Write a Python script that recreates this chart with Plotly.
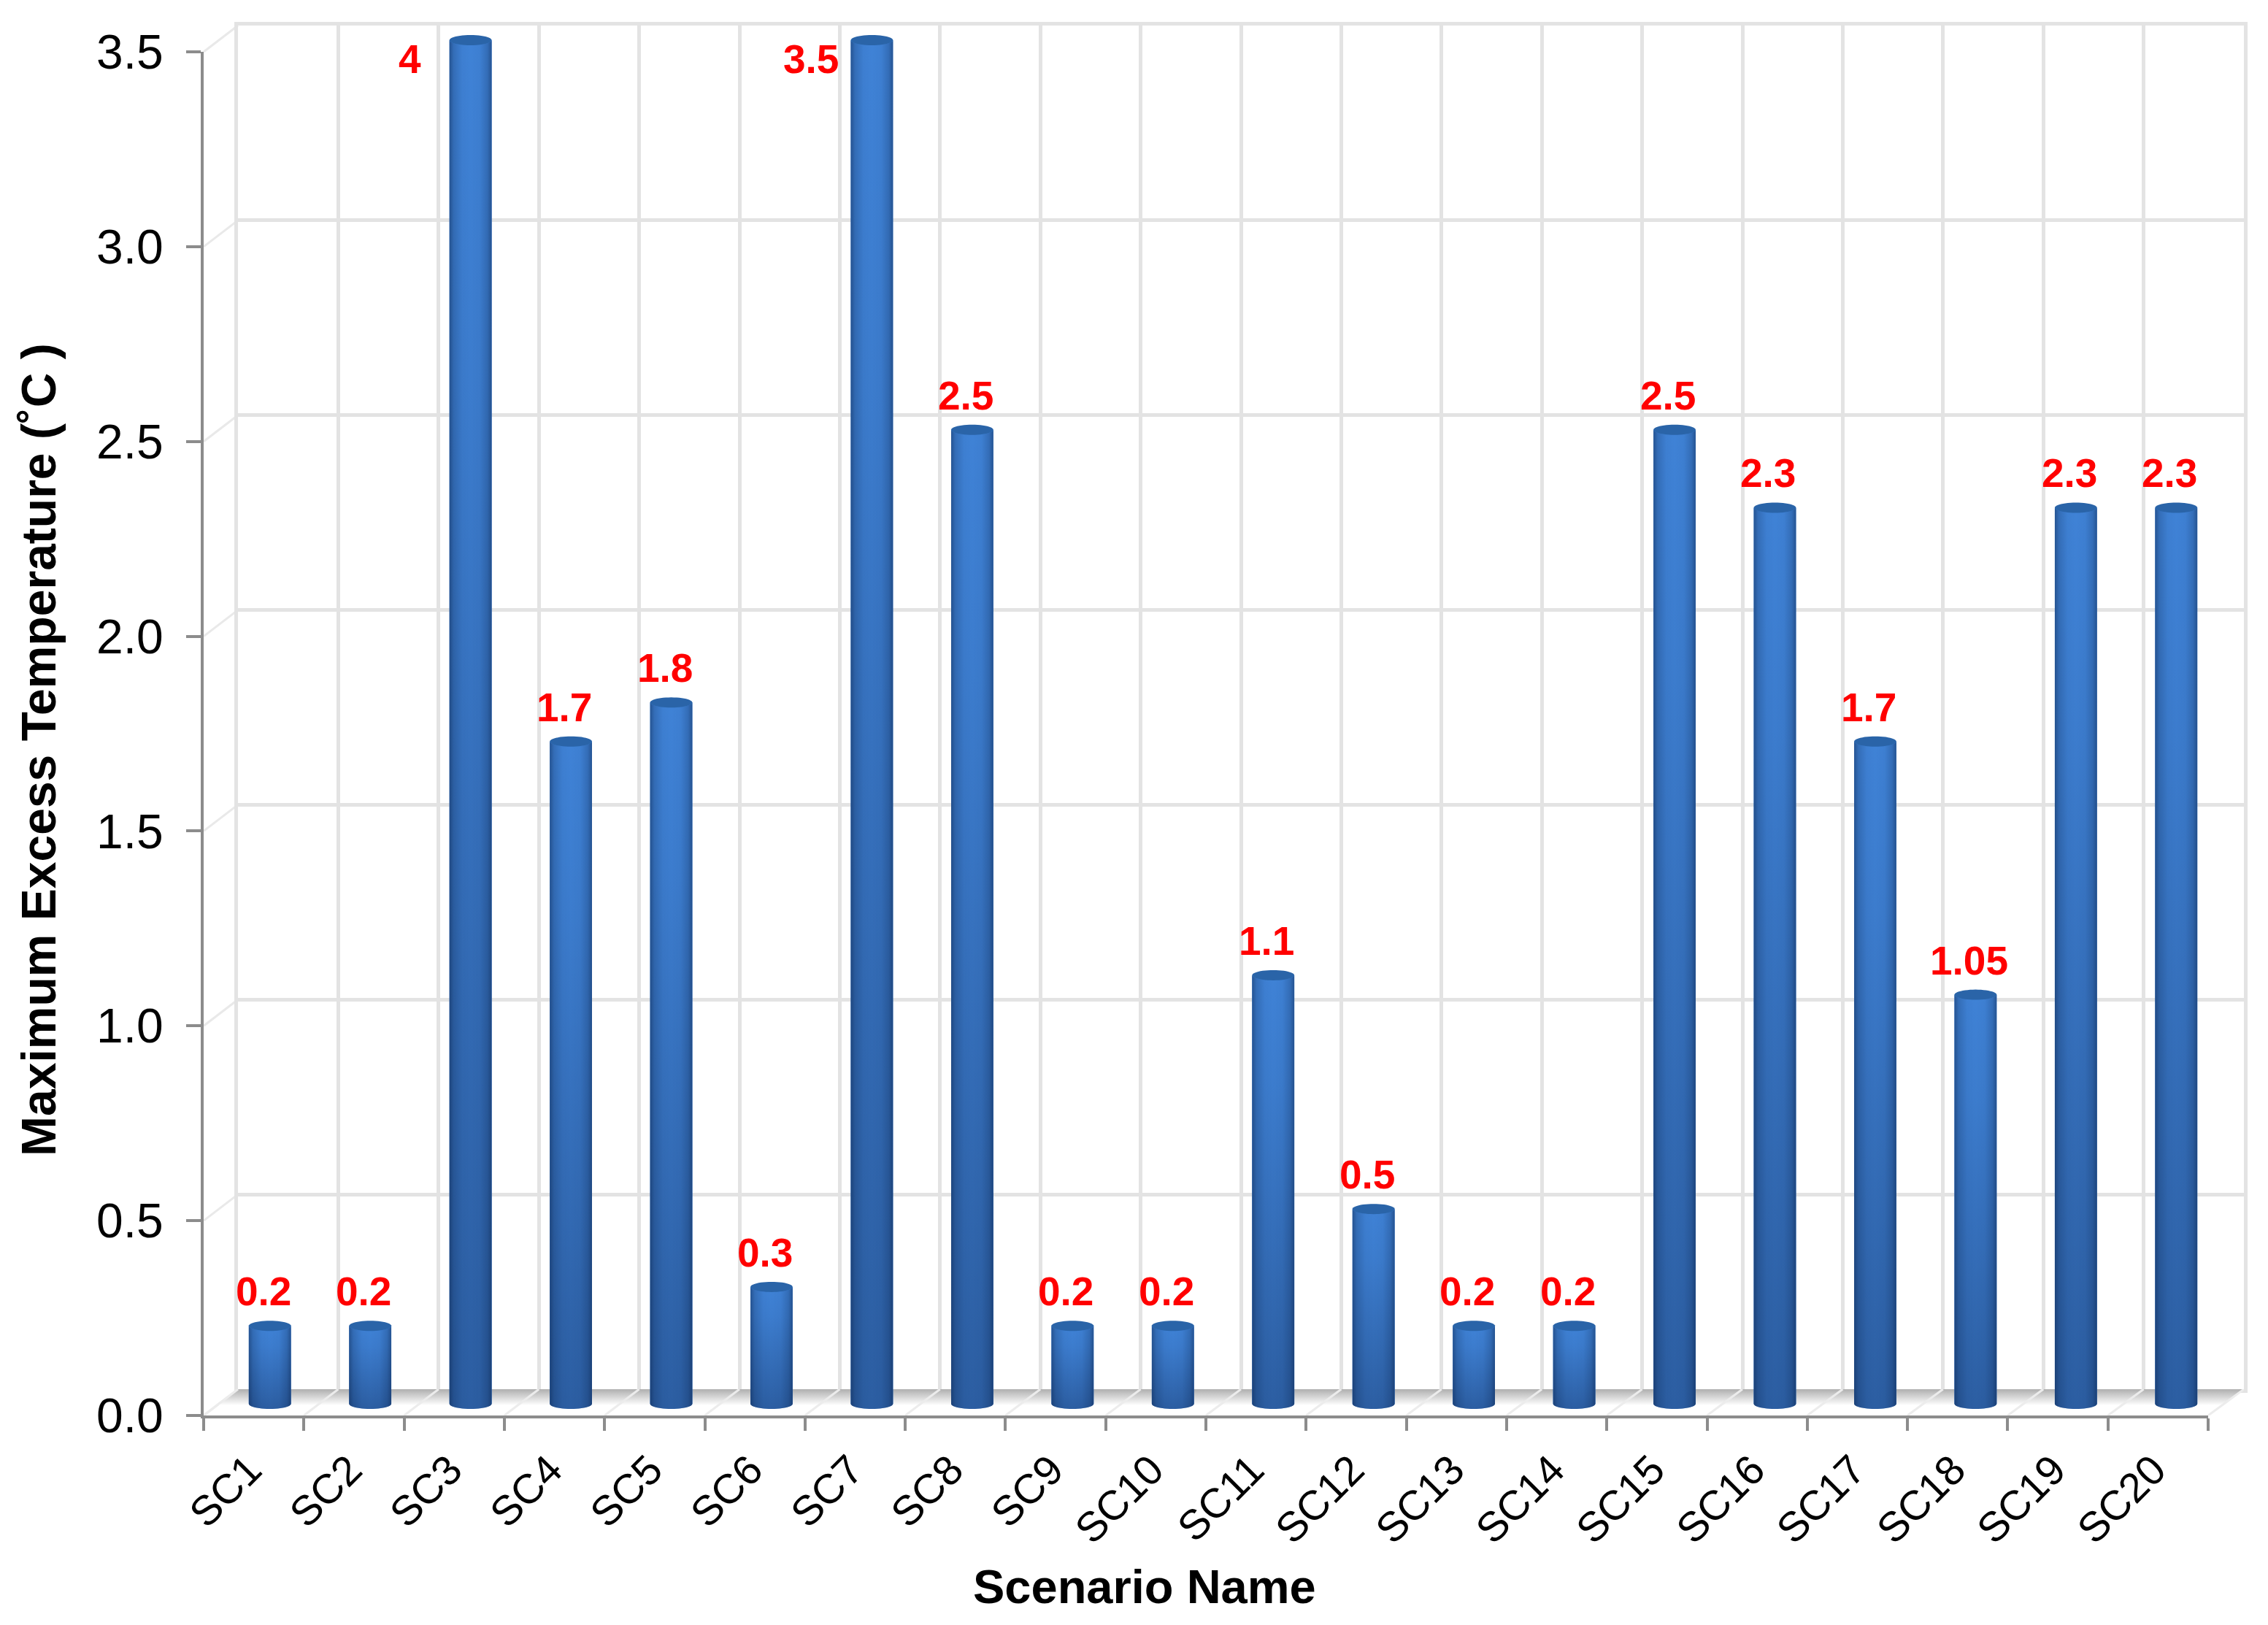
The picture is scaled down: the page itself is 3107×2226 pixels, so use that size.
import numpy as np
import plotly.graph_objects as go

# ---------- data ----------
scenarios = ["SC%d" % i for i in range(1, 21)]
max_excess_temp = [0.2, 0.2, 4, 1.7, 1.8, 0.3, 3.5, 2.5, 0.2, 0.2,
                   1.1, 0.5, 0.2, 0.2, 2.5, 2.3, 1.7, 1.05, 2.3, 2.3]
y_ticks = [0.0, 0.5, 1.0, 1.5, 2.0, 2.5, 3.0, 3.5]
y_max = 3.5

# ---------- geometry of the pseudo-3D frame (pixels) ----------
W, H = 3107, 2226
FRONT_L, FRONT_R, FRONT_B, FRONT_T = 279, 3025, 1939, 71
BACK_L, BACK_R, BACK_B, BACK_T = 326, 3074, 1903, 35
BAR_L, BAR_R, BAR_B = 301, 3050, 1923
BAR_T = BAR_B - (FRONT_B - FRONT_T)
UNIT = (FRONT_B - FRONT_T) / y_max
PAD = 0.1                 # extra room on the shading axes, so caps are not clipped
BAR_W = 0.42              # in category units
CAP_H = 7 / UNIT          # half height of the elliptical caps, in axis units

def dx(*p): return [v / W for v in p]
def dy(b, t): return [1 - b / H, 1 - t / H]

GREY = "#8c8c8c"
WALL = "#e3e3e3"
FONT = "Liberation Sans"

fig = go.Figure()
n = len(scenarios)
pos = np.arange(n)

# back wall needs a trace so that its axes are drawn
fig.add_trace(go.Scatter(x=[0], y=[0], xaxis="x", yaxis="y", mode="markers",
                         marker=dict(opacity=0), hoverinfo="skip", showlegend=False))

# floor: shadow band and the diagonals (axes x2/y2)
f_l, f_r = FRONT_L, BACK_R
depth_lo = (FRONT_B - 1925) / (FRONT_B - BACK_B)
band_x = [BACK_L, BACK_R, FRONT_R + (BACK_R - FRONT_R) * depth_lo, FRONT_L + (BACK_L - FRONT_L) * depth_lo, BACK_L]
band_y = [1, 1, depth_lo, depth_lo, 1]
fig.add_trace(go.Scatter(x=band_x, y=band_y, xaxis="x2", yaxis="y2", mode="none", fill="toself",
                         fillgradient=dict(type="vertical", colorscale=[[0, "#ffffff"], [1, "#afafaf"]]),
                         hoverinfo="skip", showlegend=False))
dg_x, dg_y = [], []
for i in range(n + 1):
    dg_x += [FRONT_L + i * (FRONT_R - FRONT_L) / n, BACK_L + i * (BACK_R - BACK_L) / n, None]
    dg_y += [0, 1, None]
fig.add_trace(go.Scatter(x=dg_x, y=dg_y, xaxis="x2", yaxis="y2", mode="lines",
                         line=dict(color="#ececec", width=3), hoverinfo="skip", showlegend=False))

# front axes: tick marks and labels (x3/y3)
fig.add_trace(go.Scatter(x=scenarios, y=[0] * n, xaxis="x3", yaxis="y3", mode="markers",
                         marker=dict(opacity=0), hoverinfo="skip", showlegend=False))

# bars, clipped by the axis at y_max (x4/y4)
fig.add_trace(go.Bar(x=pos, y=max_excess_temp, width=BAR_W, xaxis="x4", yaxis="y4",
                     marker=dict(color="#3f82d6", line=dict(width=0)),
                     text=scenarios, textposition="none", showlegend=False))

# cylinder shading on top of the bars (x5/y5)
t = np.linspace(0, np.pi, 25)
horiz = [[0, "rgba(5,25,60,0.44)"], [0.1, "rgba(5,25,60,0.20)"], [0.3, "rgba(5,25,60,0.03)"],
         [0.5, "rgba(5,25,60,0)"], [0.72, "rgba(5,25,60,0.03)"], [0.9, "rgba(5,25,60,0.20)"],
         [1, "rgba(5,25,60,0.44)"]]
vert = [[0, "rgba(10,30,70,0.36)"], [0.75, "rgba(10,30,70,0.06)"], [1, "rgba(10,30,70,0)"]]
for p, v in zip(pos, max_excess_temp):
    top = min(v, y_max)
    a = BAR_W / 2
    # lower arc, left to right, then the front edge of the cap, right to left
    bx = p - a * np.cos(t)
    by = -CAP_H * np.sin(t)
    tx = p + a * np.cos(t)
    ty = top - CAP_H * np.sin(t)
    ox = np.r_[bx, tx, bx[0]]
    oy = np.r_[by, ty, by[0]]
    common = dict(xaxis="x5", yaxis="y5", mode="none", fill="toself", hoverinfo="skip", showlegend=False)
    fig.add_trace(go.Scatter(x=ox, y=oy, fillcolor="#3f82d6", **common))
    fig.add_trace(go.Scatter(x=ox, y=oy, fillgradient=dict(type="vertical", colorscale=vert), **common))
    fig.add_trace(go.Scatter(x=ox, y=oy, fillgradient=dict(type="horizontal", colorscale=horiz), **common))
    th = np.linspace(0, 2 * np.pi, 49)
    fig.add_trace(go.Scatter(x=p + a * np.cos(th), y=top + CAP_H * np.sin(th), fillcolor="#2a64a8", **common))

hidden = dict(visible=False)
layout_axes = dict(
    # back wall
    xaxis=dict(domain=dx(BACK_L, BACK_R), range=[0, n], tick0=0, dtick=1, showgrid=True, gridcolor=WALL, gridwidth=5,
               showticklabels=False, ticks="", zeroline=False, showline=True, mirror=True, linecolor=WALL, linewidth=5,
               anchor="y"),
    yaxis=dict(domain=dy(BACK_B, BACK_T), range=[0, y_max], tickvals=y_ticks, showgrid=True, gridcolor=WALL, gridwidth=5,
               showticklabels=False, ticks="", zeroline=False, showline=True, mirror=True, linecolor=WALL, linewidth=5,
               anchor="x"),
    # floor
    xaxis2=dict(domain=dx(f_l, f_r), range=[f_l, f_r], anchor="y2", **hidden),
    yaxis2=dict(domain=dy(FRONT_B, BACK_B), range=[0, 1], anchor="x2", **hidden),
    # front axes
    xaxis3=dict(domain=dx(FRONT_L, FRONT_R), type="category", categoryorder="array", categoryarray=scenarios,
                range=[-0.5, n - 0.5], tickson="boundaries", ticks="outside", ticklen=17, tickwidth=4, tickcolor=GREY,
                showline=True, linecolor=GREY, linewidth=4, showgrid=False, zeroline=False, tickangle=-45,
                tickfont=dict(family=FONT, size=57, color="black"), ticklabelstandoff=14, ticklabelshift=-6,
                anchor="y3"),
    yaxis3=dict(domain=dy(FRONT_B, FRONT_T), range=[0, y_max], tickvals=y_ticks, tickformat=".1f", ticks="outside",
                ticklen=20, tickwidth=4, tickcolor=GREY, showline=True, linecolor=GREY, linewidth=4, showgrid=False,
                zeroline=False, tickfont=dict(family=FONT, size=66, color="black"), ticklabelstandoff=18, anchor="x3"),
    # bars
    xaxis4=dict(domain=dx(BAR_L, BAR_R), range=[-0.5, n - 0.5], anchor="y4", **hidden),
    yaxis4=dict(domain=dy(BAR_B, BAR_T), range=[0, y_max], anchor="x4", **hidden),
    # shading, same scale as the bars but padded
    xaxis5=dict(domain=dx(BAR_L, BAR_R), range=[-0.5, n - 0.5], anchor="y5", **hidden),
    yaxis5=dict(domain=dy(BAR_B + PAD * UNIT, BAR_T - PAD * UNIT), range=[-PAD, y_max + PAD], anchor="x5", **hidden),
)

# left wall diagonals
shapes = []
for tick in y_ticks:
    y_px = FRONT_B - tick * UNIT
    shapes.append(dict(type="line", layer="below", xref="paper", yref="paper",
                       x0=FRONT_L / W, x1=BACK_L / W, y0=1 - y_px / H, y1=1 - (y_px - (FRONT_B - BACK_B)) / H,
                       line=dict(color="#e9e9e9", width=3)))

# data labels
annotations = []
for p, v in zip(pos, max_excess_temp):
    side = v >= y_max
    annotations.append(dict(x=p, y=min(v, y_max), xref="x5", yref="y5", text="<b>%g</b>" % v, showarrow=False,
                            xanchor="center", yanchor="middle",
                            xshift=-83 if side else -9, yshift=-26 if side else 47,
                            font=dict(family=FONT, size=55, color="#ff0000")))
annotations.append(dict(x=1568 / W, y=1 - 2173 / H, xref="paper", yref="paper", text="<b>Scenario Name</b>",
                        showarrow=False, xanchor="center", yanchor="middle",
                        font=dict(family=FONT, size=65, color="black")))
annotations.append(dict(x=53 / W, y=1 - 1027 / H, xref="paper", yref="paper", textangle=-90,
                        text="<b>Maximum Excess Temperature (˚C )</b>",
                        showarrow=False, xanchor="center", yanchor="middle",
                        font=dict(family=FONT, size=66, color="black")))

fig.update_layout(template="none", width=W, height=H, autosize=False, margin=dict(l=0, r=0, t=0, b=0),
                  paper_bgcolor="white", plot_bgcolor="rgba(0,0,0,0)", barmode="overlay",
                  showlegend=False, shapes=shapes, annotations=annotations, **layout_axes)

fig.write_html("out.html", config={"displayModeBar": False},
               post_script="document.body.style.margin='0';")
